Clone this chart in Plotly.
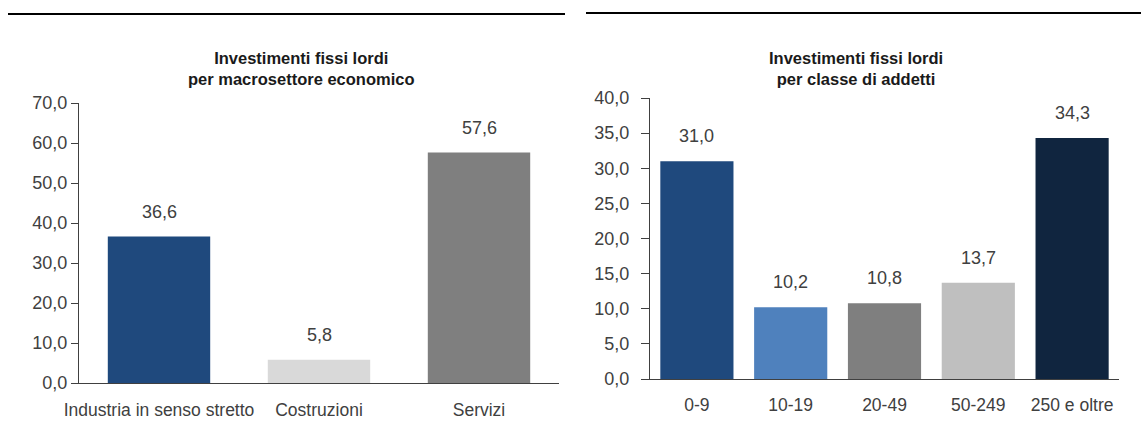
import plotly.graph_objects as go

# Left chart data
sector_categories = ["Industria in senso stretto", "Costruzioni", "Servizi"]
sector_values = [36.6, 5.8, 57.6]
sector_colors = ["#1F497D", "#D9D9D9", "#7F7F7F"]
sector_ticks = [0, 10, 20, 30, 40, 50, 60, 70]

# Right chart data
size_categories = ["0-9", "10-19", "20-49", "50-249", "250 e oltre"]
size_values = [31.0, 10.2, 10.8, 13.7, 34.3]
size_colors = ["#1F497D", "#4F81BD", "#7F7F7F", "#BFBFBF", "#10253F"]
size_ticks = [0, 5, 10, 15, 20, 25, 30, 35, 40]

W, H = 1141, 435
FONT = "Liberation Sans, Arial, sans-serif"
FS = 18
TXT = "#404040"
AX = "#404040"

def px_x(x):
    return x / W

def px_y(y):
    return (H - y) / H

fig = go.Figure()
fig.add_trace(go.Bar(x=sector_categories, y=sector_values, width=0.64,
                     marker=dict(color=sector_colors, line=dict(width=0)),
                     xaxis="x", yaxis="y", hoverinfo="skip"))
fig.add_trace(go.Bar(x=size_categories, y=size_values, width=0.78,
                     marker=dict(color=size_colors, line=dict(width=0)),
                     xaxis="x2", yaxis="y2", hoverinfo="skip"))

annotations = []
for c, v in zip(sector_categories, sector_values):
    annotations.append(dict(x=c, y=v, xref="x", yref="y", text=f"{v:.1f}".replace(".", ","),
                            showarrow=False, yanchor="bottom", yshift=13,
                            font=dict(family=FONT, size=FS, color=TXT)))
for c, v in zip(size_categories, size_values):
    annotations.append(dict(x=c, y=v, xref="x2", yref="y2", text=f"{v:.1f}".replace(".", ","),
                            showarrow=False, yanchor="bottom", yshift=13,
                            font=dict(family=FONT, size=FS, color=TXT)))

annotations.append(dict(x=px_x(301), y=px_y(68), xref="paper", yref="paper", xanchor="center", yanchor="middle",
                        text="<b>Investimenti fissi lordi<br>per macrosettore economico</b>", showarrow=False,
                        font=dict(family=FONT, size=16.5, color="#1a1a1a")))
annotations.append(dict(x=px_x(856), y=px_y(68), xref="paper", yref="paper", xanchor="center", yanchor="middle",
                        text="<b>Investimenti fissi lordi<br>per classe di addetti</b>", showarrow=False,
                        font=dict(family=FONT, size=16.5, color="#1a1a1a")))

shapes = [
    dict(type="line", xref="paper", yref="paper", x0=px_x(8), x1=px_x(565), y0=px_y(14), y1=px_y(14),
         line=dict(color="#000000", width=2)),
    dict(type="line", xref="paper", yref="paper", x0=px_x(586), x1=px_x(1141), y0=px_y(13), y1=px_y(13),
         line=dict(color="#000000", width=2)),
]

common_x = dict(showline=True, linecolor=AX, linewidth=1, ticks="outside", tickcolor="rgba(0,0,0,0)",
                showgrid=False, tickangle=0, automargin=False, fixedrange=True,
                tickfont=dict(family=FONT, size=17.5, color=TXT))
common_y = dict(tickformat=".1f", showline=True, linecolor=AX, linewidth=1, ticks="outside", tickcolor=AX,
                showgrid=False, zeroline=False, automargin=False, fixedrange=True,
                tickfont=dict(family=FONT, size=FS, color=TXT))

fig.update_layout(
    width=W, height=H,
    margin=dict(l=0, r=0, t=0, b=0, autoexpand=False),
    paper_bgcolor="white", plot_bgcolor="white",
    showlegend=False,
    separators=",.",
    font=dict(family=FONT, size=FS, color=TXT),
    annotations=annotations,
    shapes=shapes,
    xaxis=dict(domain=[px_x(79), px_x(559)], anchor="y", ticklen=11, **common_x),
    yaxis=dict(domain=[px_y(383), px_y(103)], anchor="x", range=[0, 70], tickvals=sector_ticks,
               ticklen=7, **common_y),
    xaxis2=dict(domain=[px_x(650), px_x(1119)], anchor="y2", ticklen=10, **common_x),
    yaxis2=dict(domain=[px_y(379), px_y(98)], anchor="x2", range=[0, 40], tickvals=size_ticks,
                ticklen=8, ticklabelstandoff=8, **common_y),
)
fig.write_html("out.html", config=dict(displayModeBar=False))
